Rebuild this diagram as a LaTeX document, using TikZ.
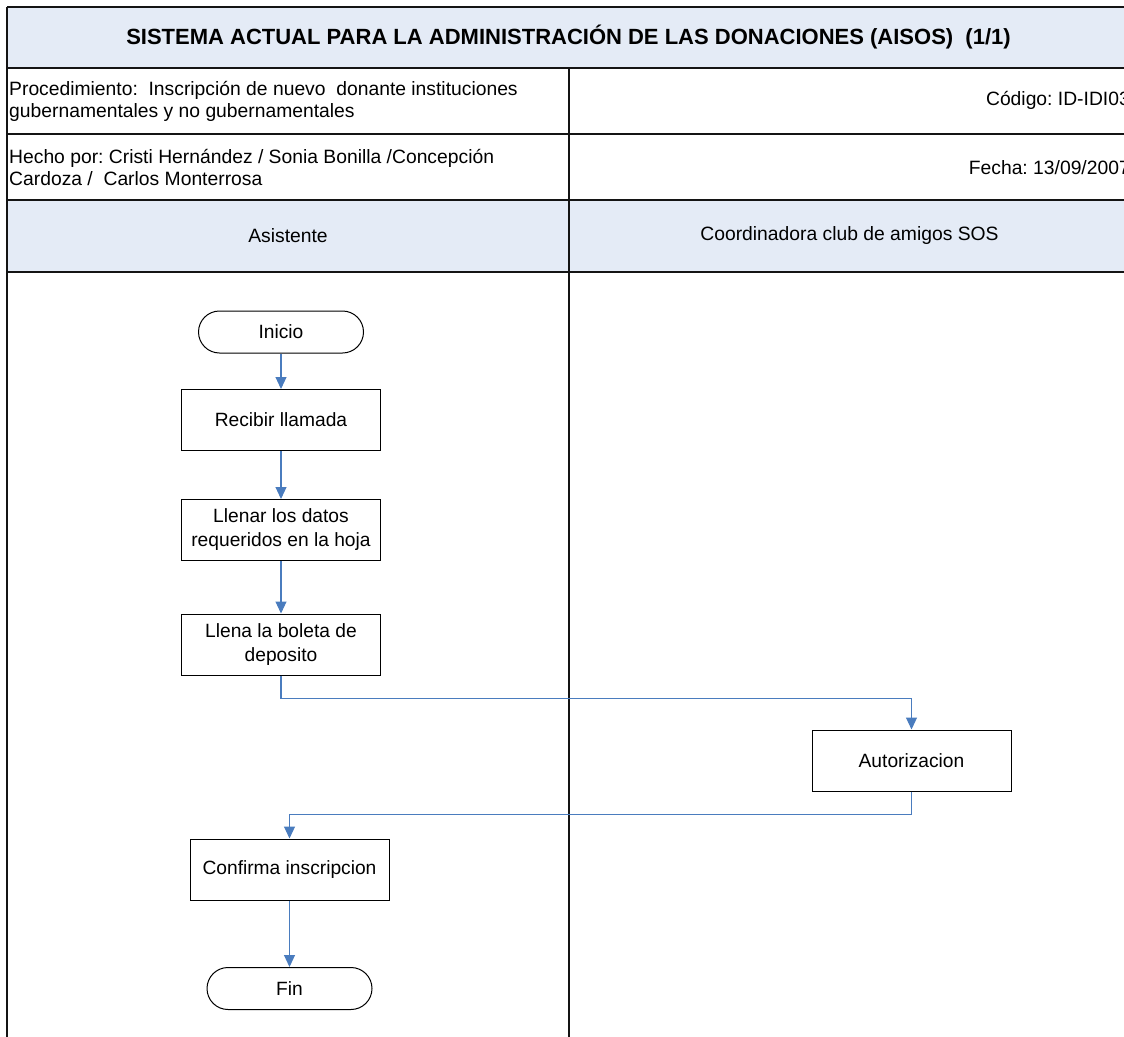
\documentclass[tikz,border=0pt]{standalone}
\usepackage{fontspec}
\setmainfont{Liberation Sans}
\usetikzlibrary{arrows.meta,calc}
\definecolor{hdrfill}{RGB}{228,235,246}
\definecolor{flowblue}{RGB}{74,124,190}
\definecolor{gridline}{RGB}{20,20,20}
\frenchspacing

\begin{document}
\begin{tikzpicture}[x=1pt,y=-1pt,
  gridrule/.style={line width=1.4pt, draw=gridline},
  celltext/.style={font=\fontsize{19.3}{22}\selectfont, inner sep=0pt, align=left},
  procbox/.style={draw, line width=1pt, minimum width=199pt, minimum height=61pt,
    align=center, inner sep=0pt, font=\fontsize{19.2}{24}\selectfont},
  terminal/.style={draw, line width=1pt, rounded corners=21pt, minimum width=165pt,
    minimum height=42pt, inner sep=0pt, font=\fontsize{19.2}{24}\selectfont},
  flow/.style={draw=flowblue, line width=1.1pt,
    -{Triangle[length=12pt,width=11pt,fill=flowblue]}}]

\useasboundingbox (0,0) rectangle (1124,1036);
\clip (0,0) rectangle (1124,1036);

% header bands
\fill[hdrfill] (7,7) rectangle (1130,68);
\fill[hdrfill] (7,200) rectangle (1130,272);

% table rules
\foreach \yy in {7,68,134,200,272}
  \draw[gridrule] (7,\yy) -- (1130,\yy);
\draw[gridrule] (7,7) -- (7,1040);
\draw[gridrule] (569,68) -- (569,1040);
\draw[gridrule] (1130,7) -- (1130,1040);

% header texts
\node[font=\bfseries\fontsize{22}{26}\selectfont, inner sep=0pt] (title) at (568.5,37)
  {SISTEMA ACTUAL PARA LA ADMINISTRACIÓN DE LAS DONACIONES (AISOS)~ (1/1)};
\node[celltext, anchor=west] (proc) at (9,101)
  {Procedimiento:~ Inscripción de nuevo~ donante instituciones\\gubernamentales y no gubernamentales};
\node[celltext, anchor=east] (codigo) at (1130,100) {Código: ID-IDI03};
\node[celltext, anchor=west] (hecho) at (9,167)
  {Hecho por: Cristi Hernández / Sonia Bonilla /Concepción\\Cardoza /~ Carlos Monterrosa};
\node[celltext, anchor=east] (fecha) at (1130,168) {Fecha: 13/09/2007};
\node[celltext] (laneA) at (288,236) {Asistente};
\node[celltext] (laneB) at (849.5,236) {Coordinadora club de amigos SOS};

% flow steps
\node[terminal] (inicio) at (281,332) {Inicio};
\node[procbox] (recibir) at (281,420) {Recibir llamada};
\node[procbox] (llenar) at (281,530) {Llenar los datos\\requeridos en la hoja};
\node[procbox] (llena) at (281,644.5) {Llena la boleta de\\deposito};
\node[procbox] (autor) at (911.5,760.5) {Autorizacion};
\node[procbox] (confirma) at (289.5,869.5) {Confirma inscripcion};
\node[terminal] (fin) at (289.5,988.5) {Fin};

% connectors
\draw[flow] (inicio) -- (recibir);
\draw[flow] (recibir) -- (llenar);
\draw[flow] (llenar) -- (llena);
\draw[flow] (llena.south) -- ++(0,23) -| (autor.north);
\draw[flow] (autor.south) -- ++(0,23) -| (confirma.north);
\draw[flow] (confirma) -- (fin);
\end{tikzpicture}
\end{document}
